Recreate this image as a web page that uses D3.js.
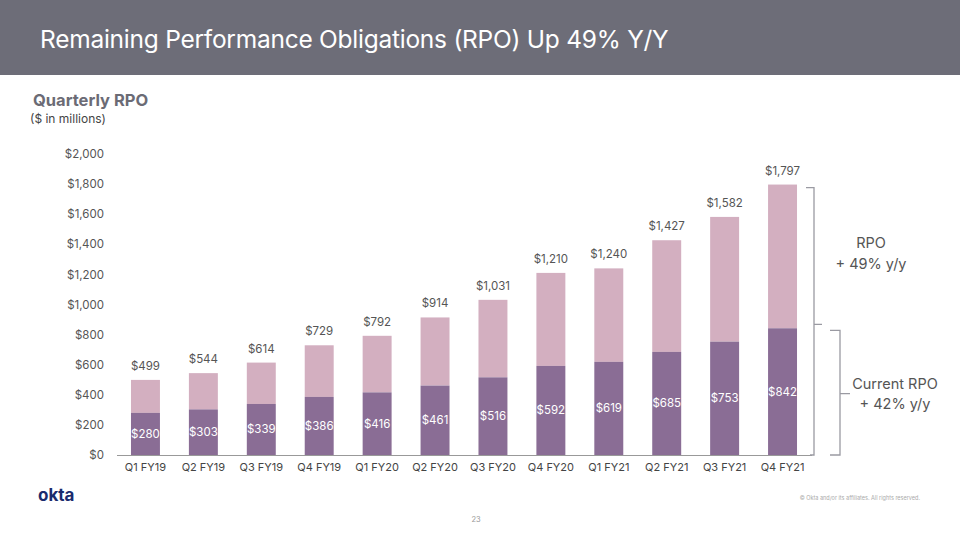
<!DOCTYPE html>
<html>
<head>
<meta charset="utf-8">
<script src="https://cdn.jsdelivr.net/npm/d3@7"></script>
<style>
  html, body { margin: 0; padding: 0; background: #fff; }
  svg { display: block; font-family: Inter, "Noto Sans", sans-serif; }
</style>
</head>
<body>
<svg id="chart" width="960" height="540"></svg>
<script>
const quarters = ["Q1 FY19","Q2 FY19","Q3 FY19","Q4 FY19","Q1 FY20","Q2 FY20","Q3 FY20","Q4 FY20","Q1 FY21","Q2 FY21","Q3 FY21","Q4 FY21"];
const totalRPO = [499,544,614,729,792,914,1031,1210,1240,1427,1582,1797];
const currentRPO = [280,303,339,386,416,461,516,592,619,685,753,842];
const yTicks = [0,200,400,600,800,1000,1200,1400,1600,1800,2000];

const svg = d3.select("#chart");
const fmt = d3.format(",");

// header band
svg.append("rect").attr("x",0).attr("y",0).attr("width",960).attr("height",75).attr("fill","#6d6d78");
svg.append("text").attr("x",40).attr("y",48).attr("fill","#fff")
  .attr("font-size",24.5).attr("letter-spacing",-0.25).attr("font-weight",400)
  .text("Remaining Performance Obligations (RPO) Up 49% Y/Y");

svg.append("text").attr("x",33).attr("y",106).attr("fill","#6b6b75")
  .attr("font-size",16.5).attr("font-weight",700).text("Quarterly RPO");
svg.append("text").attr("x",30).attr("y",123).attr("fill","#444")
  .attr("font-size",12).text("($ in millions)");

const x = d3.scaleBand().domain(quarters).range([116.5, 811.5]).paddingInner(0.5).paddingOuter(0.25);
const y = d3.scaleLinear().domain([0,2000]).range([455, 154]);

// y axis labels
const yAxis = d3.axisLeft(y).tickValues(yTicks).tickFormat(d => "$" + fmt(d)).tickSize(0).tickPadding(0);
const gy = svg.append("g").attr("transform","translate(104,0)").call(yAxis);
gy.select(".domain").remove();
gy.selectAll("text").attr("font-size",11.5).attr("fill","#555").attr("font-family","Inter, 'Noto Sans', sans-serif");

const data = quarters.map((q,i) => ({q, total: totalRPO[i], cur: currentRPO[i]}));

// bars
svg.append("g").selectAll("rect").data(data).join("rect")
  .attr("x", d => x(d.q)).attr("width", x.bandwidth())
  .attr("y", d => y(d.total)).attr("height", d => y(d.cur) - y(d.total))
  .attr("fill","#d3afc0");
svg.append("g").selectAll("rect").data(data).join("rect")
  .attr("x", d => x(d.q)).attr("width", x.bandwidth())
  .attr("y", d => y(d.cur)).attr("height", d => y(0) - y(d.cur))
  .attr("fill","#8a6d95");

// labels
svg.append("g").selectAll("text").data(data).join("text")
  .attr("x", d => x(d.q) + x.bandwidth()/2).attr("y", d => y(d.total) - 10)
  .attr("text-anchor","middle").attr("font-size",11.5).attr("fill","#555")
  .text(d => "$" + fmt(d.total));
svg.append("g").selectAll("text").data(data).join("text")
  .attr("x", d => x(d.q) + x.bandwidth()/2).attr("y", d => (y(d.cur) + y(0))/2 + 4)
  .attr("text-anchor","middle").attr("font-size",11.5).attr("fill","#fff")
  .text(d => "$" + fmt(d.cur));

// x axis
const xAxis = d3.axisBottom(x).tickSize(0).tickPadding(8);
const gx = svg.append("g").attr("transform","translate(0,455)").call(xAxis);
gx.select(".domain").attr("stroke","#999").attr("stroke-width",1.2);
gx.selectAll("text").attr("font-size",11).attr("fill","#444").attr("font-family","Inter, 'Noto Sans', sans-serif");

// brackets
const last = data[data.length-1];
const yt = y(last.total), yc = y(last.cur), yb = y(0);
const br = svg.append("g").attr("fill","none").attr("stroke","#9a9aa2").attr("stroke-width",1.3);
br.append("path").attr("d", `M806,${yt+3} H814 V${yb} H810 M814,${yc-4} H822`);
br.append("path").attr("d", `M830,${yc+2} H840 V${yb} H830 M840,${(yc+yb)/2+2} H850`);

svg.append("text").attr("x",871).attr("y",248).attr("text-anchor","middle").attr("font-size",14.5).attr("fill","#555").text("RPO");
svg.append("text").attr("x",871).attr("y",269).attr("text-anchor","middle").attr("font-size",14.5).attr("fill","#555").text("+ 49% y/y");
svg.append("text").attr("x",895).attr("y",389).attr("text-anchor","middle").attr("font-size",14.5).attr("fill","#555").text("Current RPO");
svg.append("text").attr("x",895).attr("y",409).attr("text-anchor","middle").attr("font-size",14.5).attr("fill","#555").text("+ 42% y/y");

// footer
svg.append("text").attr("x",38).attr("y",501).attr("font-size",17).attr("font-weight",700).attr("fill","#1a2b6d").text("okta");
svg.append("text").attr("x",920).attr("y",500).attr("text-anchor","end").attr("font-size",5.5).attr("fill","#aaa").text("© Okta and/or its affiliates. All rights reserved.");
svg.append("text").attr("x",476).attr("y",522).attr("text-anchor","middle").attr("font-size",7.5).attr("fill","#999").text("23");
</script>
</body>
</html>
